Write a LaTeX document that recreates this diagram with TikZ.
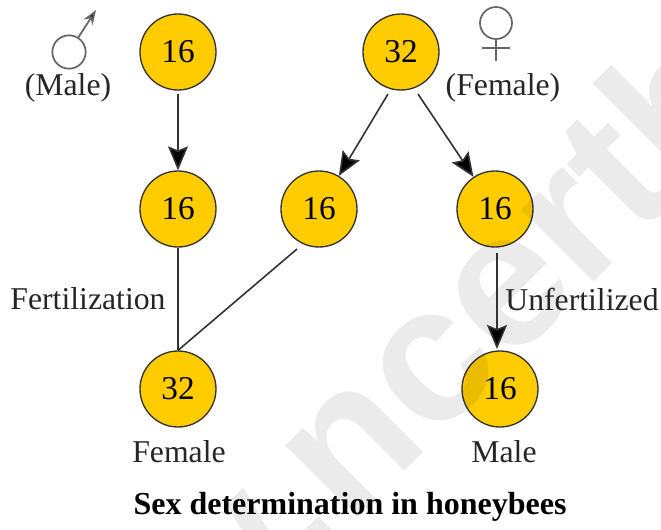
\documentclass[tikz,border=0pt]{standalone}
\usepackage{fontspec}
\setmainfont{Liberation Serif}
\setsansfont{Liberation Sans}
\usetikzlibrary{
	arrows.meta,
	positioning
}
\definecolor{colbee}{RGB}{255,204,0}
\tikzset{
	>={Stealth[length=18pt,width=15pt,inset=3pt,fill=black]},
	beenode/.style={circle, draw=black!80, line width=1pt, fill=colbee, minimum size=57pt, inner sep=0pt, font=\fontsize{25}{27}\selectfont},
	labelnode/.style={inner sep=0pt, text=black!85, font=\fontsize{23.8}{26}\selectfont},
	beeedge/.style={line width=1.2pt, draw=black!80},
	sexsign/.style={line width=1.3pt, draw=black!60}
}

\begin{document}
\begin{tikzpicture}[x=0.75pt, y=-0.75pt]
	\useasboundingbox (0,0) rectangle (661,529);

	\node[beenode] (male) at (178,52) {16};
	\node[beenode] (queen) at (401,52) {32};
	\node[beenode] (sperm) at (178,209) {16};
	\node[beenode] (eggl) at (319,209) {16};
	\node[beenode] (eggr) at (495,209) {16};
	\node[beenode] (female) at (178,389) {32};
	\node[beenode] (drone) at (500,389) {16};

	\node[rotate=45, font=\sffamily\bfseries\fontsize{145}{145}\selectfont, text=black, opacity=0.08, inner sep=0pt] (mark) at (439,339) {w.ncerth};

	\node[labelnode] (malelabel) at (68,88) {(Male)};
	\node[labelnode] (femalelabel) at (503,88) {(Female)};
	\node[labelnode] (fert) at (88,299) {Fertilization};
	\node[labelnode] (unfert) at (582,299) {Unfertilized};
	\node[labelnode] (femaletext) at (179,452) {Female};
	\node[labelnode] (maletext) at (504,452) {Male};
	\node[labelnode, text=black, font=\bfseries\fontsize{24}{26}\selectfont] (title) at (350,507) {Sex determination in honeybees};

	% sex signs
	\node[circle, sexsign, minimum size=25pt, inner sep=0pt] (marsring) at (69,52) {};
	\coordinate (marstip) at (96,10);
	\draw[sexsign, -{Stealth[length=11pt,width=8pt,fill=black]}] (marsring) -- (marstip);
	\node[circle, sexsign, minimum size=24pt, inner sep=0pt] (venusring) at (496,23) {};
	\coordinate (venusfoot) at (496,61);
	\coordinate (venusl) at (482,48);
	\coordinate (venusr) at (510,48);
	\draw[sexsign] (venusring) -- (venusfoot);
	\draw[sexsign] (venusl) -- (venusr);

	\coordinate (malefrom) at (178,94);
	\coordinate (queenl) at (388,94);
	\coordinate (queenr) at (418,94);
	\coordinate (eggrfrom) at (497,253);
	\coordinate (dronetop) at (497,349);
	\coordinate (egglfrom) at (297,249);

	\draw[beeedge, ->] (malefrom) -- (sperm);
	\draw[beeedge, ->] (queenl) -- (eggl);
	\draw[beeedge, ->] (queenr) -- (eggr);
	\draw[beeedge, ->] (eggrfrom) -- (dronetop);
	\draw[beeedge] (sperm) -- (female.north);
	\draw[beeedge] (egglfrom) -- (female.north);
\end{tikzpicture}
\end{document}
